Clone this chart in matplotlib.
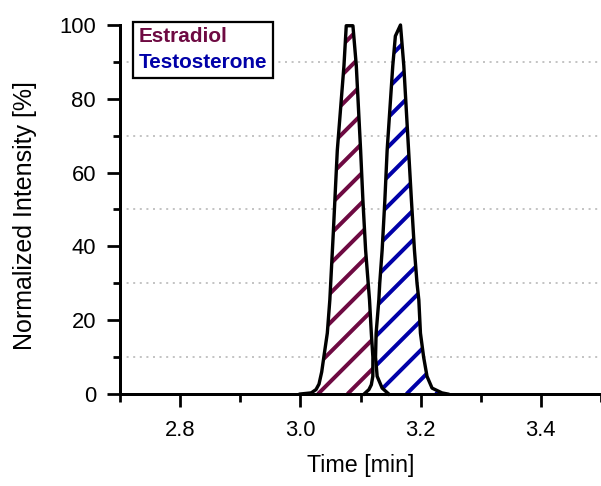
import matplotlib
matplotlib.use("Agg")
import matplotlib.pyplot as plt
from matplotlib.ticker import MultipleLocator

# ---- data ----
estradiol_time = [3.000, 3.018, 3.026, 3.031, 3.0355, 3.039, 3.0448, 3.049, 3.0547, 3.0587,
                  3.0614, 3.0725, 3.0763, 3.0874, 3.093, 3.1002, 3.104, 3.1085, 3.1128,
                  3.115, 3.118, 3.1206, 3.1205, 3.118, 3.114, 3.106]
estradiol_int = [0, 0.3, 1.2, 2.7, 6, 10, 16.5, 25.5, 43.5, 57,
                 66, 89, 99.8, 99.8, 89, 66, 52.5, 39, 30,
                 25.5, 16.5, 10, 4.8, 2.5, 1.2, 0]

testo_time = [3.147, 3.136, 3.1277, 3.125, 3.126, 3.1305, 3.132, 3.136, 3.1405, 3.1443,
              3.1537, 3.158, 3.1665, 3.172, 3.180, 3.1847, 3.1897, 3.194, 3.197,
              3.1997, 3.205, 3.2106, 3.219, 3.2355, 3.245]
testo_int = [0, 1.6, 4.8, 10, 16.5, 25.5, 30, 39, 52.5, 66,
             89, 97, 100, 89, 66, 52.5, 39, 30, 25.5,
             16.5, 10, 4.8, 1.6, 0.3, 0]

series_names = ["Estradiol", "Testosterone"]
series_colors = ["#6e0a42", "#0000a8"]
x_ticks = [2.8, 3.0, 3.2, 3.4]
y_ticks = [0, 20, 40, 60, 80, 100]

DPI = 180
W_PX, H_PX = 601, 486
AX_L, AX_R, AX_B, AX_T = 120, 601, 394, 25   # pixel box of the axes
plt.rcParams['font.family'] = ['Liberation Sans', 'DejaVu Sans']

fig = plt.figure(figsize=(W_PX / DPI, H_PX / DPI), dpi=DPI)
ax = fig.add_axes([AX_L / W_PX, (H_PX - AX_B) / H_PX,
                   (AX_R - AX_L) / W_PX, (AX_B - AX_T) / H_PX])
ax.set_xlim(2.7, 3.5)
ax.set_ylim(0, 100)

# hatch: 45-degree stripes (in pixel space) clipped to each peak area
aw, ah = AX_R - AX_L, AX_B - AX_T
stripe_step = 29.5 / aw
stripe_phase = 198.0 / aw
curves = [(estradiol_time, estradiol_int), (testo_time, testo_int)]
handles = []
for (t, y), name, col in zip(curves, series_names, series_colors):
    poly = ax.fill(t, y, facecolor="white", edgecolor="none", linewidth=0, zorder=2)[0]
    k = -20
    while stripe_phase + k * stripe_step < 1.0:
        c = stripe_phase + k * stripe_step
        ln, = ax.plot([c, c + ah / aw], [0, 1], transform=ax.transAxes,
                      color=col, lw=1.6, solid_capstyle="butt", zorder=2.5)
        ln.set_clip_path(poly)
        k += 1
    ax.plot(t, y, color="black", lw=1.35, zorder=3, solid_joinstyle="round",
            clip_on=False)
    h, = ax.plot([], [], color="none", label=name)
    handles.append(h)

# dotted grid at the minor y positions
for v in [10, 30, 50, 70, 90]:
    ax.axhline(v, color="#c4c4c4", lw=0.8, linestyle=(0, (1, 2.3)), zorder=1)

for s in ["top", "right"]:
    ax.spines[s].set_visible(False)
for s in ["left", "bottom"]:
    ax.spines[s].set_linewidth(1.2)
    ax.spines[s].set_zorder(4)

ax.set_xticks(x_ticks)
ax.set_xticklabels([f"{v:.1f}" for v in x_ticks])
ax.set_yticks(y_ticks)
ax.xaxis.set_minor_locator(MultipleLocator(0.1))
ax.yaxis.set_minor_locator(MultipleLocator(10))
ax.tick_params(which="major", length=5.2, width=1.1, labelsize=8.8, direction="out")
ax.tick_params(which="minor", length=3.0, width=1.1, direction="out")
ax.tick_params(axis="x", which="major", pad=5.2)
ax.tick_params(axis="y", which="major", pad=4.4)

ax.set_xlabel("Time [min]", fontsize=9.3, labelpad=5)
ax.set_ylabel("Normalized Intensity [%]", fontsize=10)
ax.yaxis.set_label_coords((37 - AX_L) / aw, (AX_B - 216) / ah)

leg = ax.legend(handles=handles, loc="upper left", bbox_to_anchor=(0.026, 1.009),
                borderaxespad=0, handlelength=0, handletextpad=0, fancybox=False,
                framealpha=1, edgecolor="black", labelspacing=0.32, borderpad=0.28,
                prop={"weight": "bold", "size": 8.3}, labelcolor=series_colors)
leg.get_frame().set_linewidth(0.9)
leg.set_zorder(5)

fig.savefig("out.png", dpi=DPI)
